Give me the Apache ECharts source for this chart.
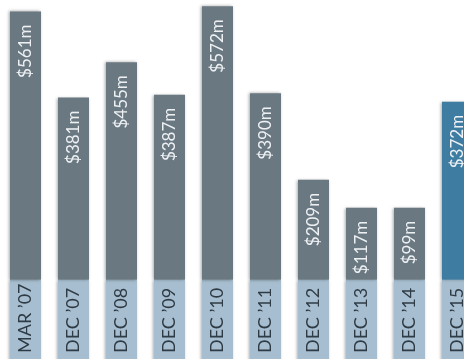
<!DOCTYPE html>
<html>
<head>
<meta charset="utf-8">
<script src="https://cdn.jsdelivr.net/npm/echarts@6/dist/echarts.min.js"></script>
<style>html,body{margin:0;padding:0;background:#fff;}#c{width:464px;height:359px;}</style>
</head>
<body>
<div id="c"></div>
<script>
var categories = ["MAR \u201907","DEC \u201907","DEC \u201908","DEC \u201909","DEC \u201910","DEC \u201911","DEC \u201912","DEC \u201913","DEC \u201914","DEC \u201915"];
var values = [561, 381, 455, 387, 572, 390, 209, 117, 99, 372];
var valueLabels = ["$561m","$381m","$455m","$387m","$572m","$390m","$209m","$117m","$99m","$372m"];

var BASE = 172;
var GREY = '#6a7882', BLUE = '#3e7ca2', LIGHT = '#a7bed0';
var shadow = {shadowBlur: 3, shadowOffsetX: -1, shadowColor: 'rgba(0,0,0,0.35)'};

var chart = echarts.init(document.getElementById('c'), null, {renderer: 'canvas'});
chart.setOption({
  animation: false,
  grid: {left: 1.5, top: 0, width: 480, height: 362, outerBoundsMode: 'none', containLabel: false},
  xAxis: {type: 'category', data: categories, show: false},
  yAxis: {type: 'value', min: 0, max: 757, show: false},
  series: [
    {
      type: 'bar', stack: 's', barWidth: 31,
      data: categories.map(function(){ return BASE; }),
      itemStyle: Object.assign({color: LIGHT}, shadow),
      label: {
        show: true, position: 'insideBottom', rotate: 90, align: 'left', verticalAlign: 'middle',
        distance: 9, fontFamily: 'Lato', fontSize: 18, color: '#2e3b44',
        formatter: function(p){ return categories[p.dataIndex]; }
      }
    },
    {
      type: 'bar', stack: 's', barWidth: 31, barMinHeight: 72,
      data: values.map(function(v, i){
        return {value: v, itemStyle: {color: i === values.length - 1 ? BLUE : GREY}};
      }),
      itemStyle: Object.assign({color: GREY}, shadow),
      label: {
        show: true, position: 'insideTop', rotate: 90, align: 'right', verticalAlign: 'middle',
        distance: 13, fontFamily: 'Lato', fontSize: 17, color: '#eef1f3',
        formatter: function(p){ return valueLabels[p.dataIndex]; }
      }
    }
  ]
});
</script>
</body>
</html>
